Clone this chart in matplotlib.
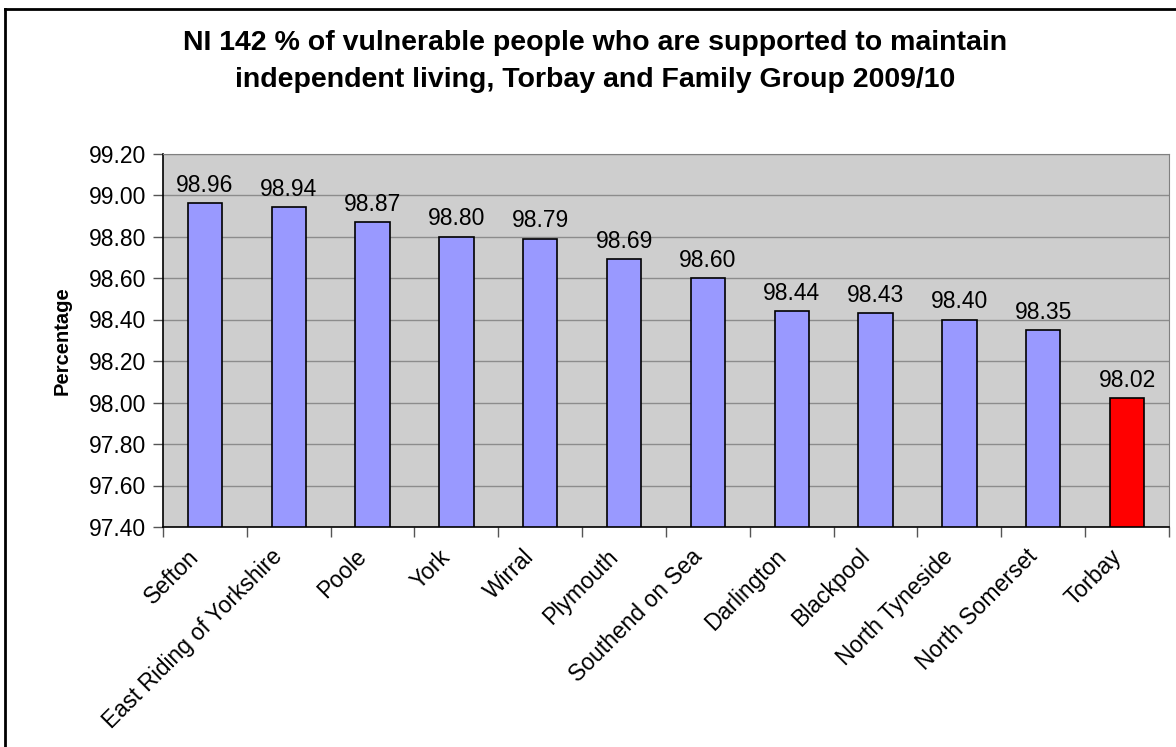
import matplotlib.pyplot as plt
from matplotlib.lines import Line2D
from matplotlib.ticker import MultipleLocator, FormatStrFormatter

plt.rcParams['font.family'] = ['Liberation Sans', 'DejaVu Sans']

areas = ["Sefton", "East Riding of Yorkshire", "Poole", "York", "Wirral", "Plymouth",
         "Southend on Sea", "Darlington", "Blackpool", "North Tyneside",
         "North Somerset", "Torbay"]
percent = [98.96, 98.94, 98.87, 98.80, 98.79, 98.69, 98.60, 98.44, 98.43, 98.40, 98.35, 98.02]
highlight = "Torbay"

W, H = 1176, 747
fig = plt.figure(figsize=(W / 100, H / 100), dpi=100)
ax = fig.add_axes([163 / W, 1 - 527 / H, (1169 - 163) / W, (527 - 153.5) / H])

colors = ["#FF0000" if a == highlight else "#9999FF" for a in areas]
x = list(range(len(areas)))
bars = ax.bar(x, [p - 97.4 for p in percent], bottom=97.4, width=0.41,
              color=colors, edgecolor="black", linewidth=1.2, zorder=3)

for b, p in zip(bars, percent):
    ax.text(b.get_x() + b.get_width() / 2, p + 0.03, f"{p:.2f}",
            ha="center", va="bottom", fontsize=16.5, zorder=4)

ax.set_facecolor("#CECECE")
ax.set_ylim(97.4, 99.2)
ax.set_xlim(-0.5, len(areas) - 0.5)
ax.yaxis.set_major_locator(MultipleLocator(0.2))
ax.yaxis.set_major_formatter(FormatStrFormatter("%.2f"))
ax.grid(axis="y", color="#8C8C8C", linewidth=1.0, zorder=1)

# ticks on category boundaries; rotated names sit on hidden minor ticks,
# nudged left so each name ends just before its bar centre
ax.set_xticks([i - 0.5 for i in range(len(areas) + 1)])
ax.set_xticklabels([])
ax.set_xticks([i - 0.21 for i in x], minor=True)
ax.set_xticklabels(areas, minor=True, rotation=45, ha="right",
                   rotation_mode="anchor", fontsize=16.5)
ax.tick_params(axis="x", which="minor", length=0, pad=13)
ax.tick_params(axis="x", which="major", length=7, width=1, color="#555555")
ax.tick_params(axis="y", length=7, width=1, color="#555555", labelsize=16.5, pad=5)

for s in ("top", "right"):
    ax.spines[s].set_color("#808080")
for s in ("left", "bottom"):
    ax.spines[s].set_color("black")
    ax.spines[s].set_linewidth(1.2)

ax.set_ylabel("Percentage", fontsize=14.5, fontweight="bold")
ax.yaxis.set_label_coords(-0.091, 0.5)

fig.text(595 / W, 1 - 43 / H,
         "NI 142 % of vulnerable people who are supported to maintain",
         ha="center", va="center", fontsize=20.5, fontweight="bold")
fig.text(595 / W, 1 - 80 / H,
         "independent living, Torbay and Family Group 2009/10",
         ha="center", va="center", fontsize=20.5, fontweight="bold")

# chart frame
fig.add_artist(Line2D([5 / W, 5 / W], [0, 1 - 9 / H], color="black", linewidth=2,
                      transform=fig.transFigure))
fig.add_artist(Line2D([5 / W, 1], [1 - 9 / H, 1 - 9 / H], color="black", linewidth=2,
                      transform=fig.transFigure))

fig.savefig("out.png", dpi=100)
